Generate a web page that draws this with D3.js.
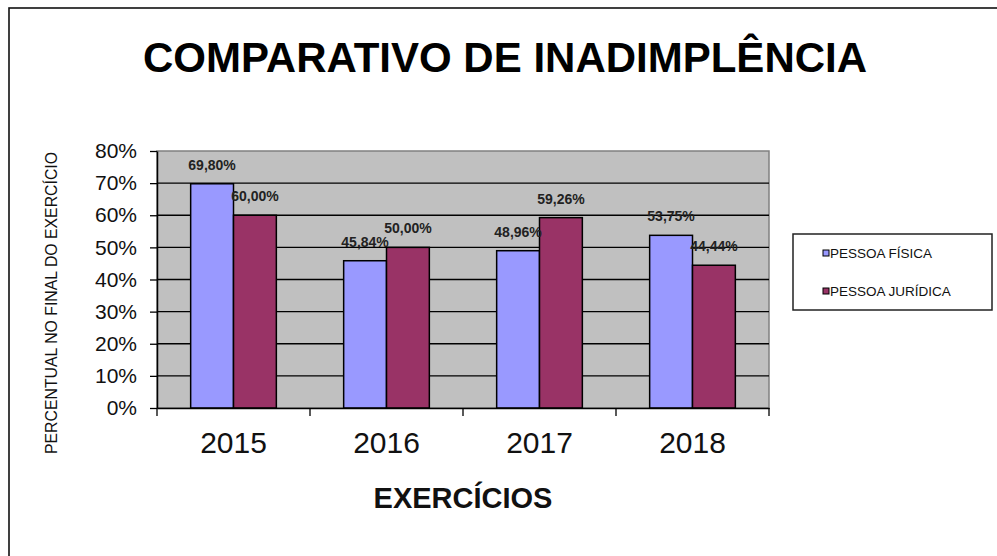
<!DOCTYPE html>
<html>
<head>
<meta charset="utf-8">
<script src="https://cdn.jsdelivr.net/npm/d3@7"></script>
<style>
  html, body { margin: 0; padding: 0; background: #fff; }
  #chart { width: 997px; height: 556px; }
  text { font-family: "Liberation Sans", Arial, sans-serif; }
</style>
</head>
<body>
<div id="chart"></div>
<script>
const years = ["2015", "2016", "2017", "2018"];
const seriesNames = ["PESSOA FÍSICA", "PESSOA JURÍDICA"];
const pessoaFisica = [0.6980, 0.4584, 0.4896, 0.5375];
const pessoaJuridica = [0.6000, 0.5000, 0.5926, 0.4444];
const yTicks = [0, 0.1, 0.2, 0.3, 0.4, 0.5, 0.6, 0.7, 0.8];
const colors = ["#9999ff", "#993366"];

function draw() {
  const W = 997, H = 556;
  const svg = d3.select("#chart").append("svg")
    .attr("width", W).attr("height", H)
    .attr("viewBox", `0 0 ${W} ${H}`);

  // outer frame (only top/left show in the picture)
  svg.append("rect")
    .attr("x", 9).attr("y", 8)
    .attr("width", 1000).attr("height", 570)
    .attr("fill", "none").attr("stroke", "#111").attr("stroke-width", 1.6);

  const plot = { left: 157, right: 769, top: 151, bottom: 408 };
  const innerW = plot.right - plot.left;

  const x0 = d3.scaleBand().domain(years).range([plot.left, plot.right]);
  const bw = x0.bandwidth();
  const x1 = d3.scaleBand().domain(seriesNames).range([bw * 0.22, bw * 0.78]);
  const y = d3.scaleLinear().domain([0, 0.8]).range([plot.bottom, plot.top]);

  const ptBR = d3.formatLocale({ decimal: ",", thousands: ".", grouping: [3], currency: ["R$", ""] });
  const fmtLabel = ptBR.format(".2%");
  const fmtTick = d3.format(".0%");

  // plot area
  svg.append("rect")
    .attr("x", plot.left).attr("y", plot.top)
    .attr("width", innerW).attr("height", plot.bottom - plot.top)
    .attr("fill", "#c0c0c0").attr("stroke", "#808080").attr("stroke-width", 1.5);

  // gridlines
  svg.append("g")
    .selectAll("line")
    .data(yTicks.filter(d => d > 0 && d < 0.8))
    .join("line")
    .attr("x1", plot.left).attr("x2", plot.right)
    .attr("y1", d => y(d)).attr("y2", d => y(d))
    .attr("stroke", "#000").attr("stroke-width", 1.3);

  // bars
  const table = years.map((yr, i) => ({ year: yr, values: [pessoaFisica[i], pessoaJuridica[i]] }));
  const groups = svg.append("g").selectAll("g")
    .data(table)
    .join("g")
    .attr("transform", d => `translate(${x0(d.year)},0)`);

  groups.selectAll("rect")
    .data(d => d.values.map((v, k) => ({ key: seriesNames[k], v, k })))
    .join("rect")
    .attr("x", d => x1(d.key))
    .attr("y", d => y(d.v))
    .attr("width", x1.bandwidth())
    .attr("height", d => y(0) - y(d.v))
    .attr("fill", d => colors[d.k])
    .attr("stroke", "#000").attr("stroke-width", 1.5);

  groups.selectAll("text")
    .data(d => d.values.map((v, k) => ({ key: seriesNames[k], v, k })))
    .join("text")
    .attr("x", d => x1(d.key) + x1.bandwidth() / 2)
    .attr("y", d => y(d.v) - 14)
    .attr("text-anchor", "middle")
    .style("font-size", "14px")
    .style("font-weight", "bold")
    .attr("fill", "#222")
    .text(d => fmtLabel(d.v));

  // y axis
  const yAxis = svg.append("g")
    .attr("transform", `translate(${plot.left},0)`)
    .call(d3.axisLeft(y).tickValues(yTicks).tickSize(7).tickPadding(13).tickFormat(fmtTick).tickSizeOuter(0));
  yAxis.select(".domain").attr("stroke", "#000").attr("stroke-width", 1.5);
  yAxis.selectAll(".tick line").attr("stroke", "#000").attr("stroke-width", 1.3);
  yAxis.selectAll("text")
    .style("font-size", "21px")
    .style("font-family", "'Liberation Sans', Arial, sans-serif")
    .attr("fill", "#111");

  // x axis
  const xAxis = svg.append("g")
    .attr("transform", `translate(0,${plot.bottom})`)
    .call(d3.axisBottom(x0).tickSize(0).tickPadding(24).tickSizeOuter(0));
  xAxis.select(".domain").attr("stroke", "#000").attr("stroke-width", 1.5);
  xAxis.selectAll("text")
    .style("font-size", "30px")
    .style("font-family", "'Liberation Sans', Arial, sans-serif")
    .attr("fill", "#111");

  // category boundary ticks
  const bounds = years.map(d => x0(d)).concat([x0.range()[1]]);
  svg.append("g").selectAll("line")
    .data(bounds)
    .join("line")
    .attr("x1", d => d).attr("x2", d => d)
    .attr("y1", plot.bottom).attr("y2", plot.bottom + 8)
    .attr("stroke", "#000").attr("stroke-width", 1.3);

  // title
  svg.append("text")
    .attr("x", 505).attr("y", 72)
    .attr("text-anchor", "middle")
    .style("font-size", "42px")
    .style("font-weight", "bold")
    .attr("fill", "#000")
    .text("COMPARATIVO DE INADIMPLÊNCIA");

  // x axis title
  svg.append("text")
    .attr("x", (plot.left + plot.right) / 2).attr("y", 508)
    .attr("text-anchor", "middle")
    .style("font-size", "29px")
    .style("font-weight", "bold")
    .attr("fill", "#111")
    .text("EXERCÍCIOS");

  // y axis title
  svg.append("text")
    .attr("transform", "rotate(-90)")
    .attr("x", -303).attr("y", 57)
    .attr("text-anchor", "middle")
    .style("font-size", "16px")
    .attr("textLength", 302)
    .attr("lengthAdjust", "spacingAndGlyphs")
    .attr("fill", "#111")
    .text("PERCENTUAL NO FINAL DO EXERCÍCIO");

  // legend
  const legend = svg.append("g");
  legend.append("rect")
    .attr("x", 793).attr("y", 234)
    .attr("width", 199).attr("height", 76)
    .attr("fill", "#fff").attr("stroke", "#222").attr("stroke-width", 1.5);

  const items = legend.selectAll("g.item")
    .data(seriesNames)
    .join("g")
    .attr("class", "item")
    .attr("transform", (d, i) => `translate(823,${253 + i * 38})`);
  items.append("rect")
    .attr("x", 0).attr("y", -3)
    .attr("width", 6).attr("height", 6)
    .attr("fill", (d, i) => colors[i])
    .attr("stroke", "#000").attr("stroke-width", 1);
  items.append("text")
    .attr("x", 7).attr("y", 5)
    .style("font-size", "13.5px")
    .attr("fill", "#111")
    .text(d => d);
}

draw();
</script>
</body>
</html>
